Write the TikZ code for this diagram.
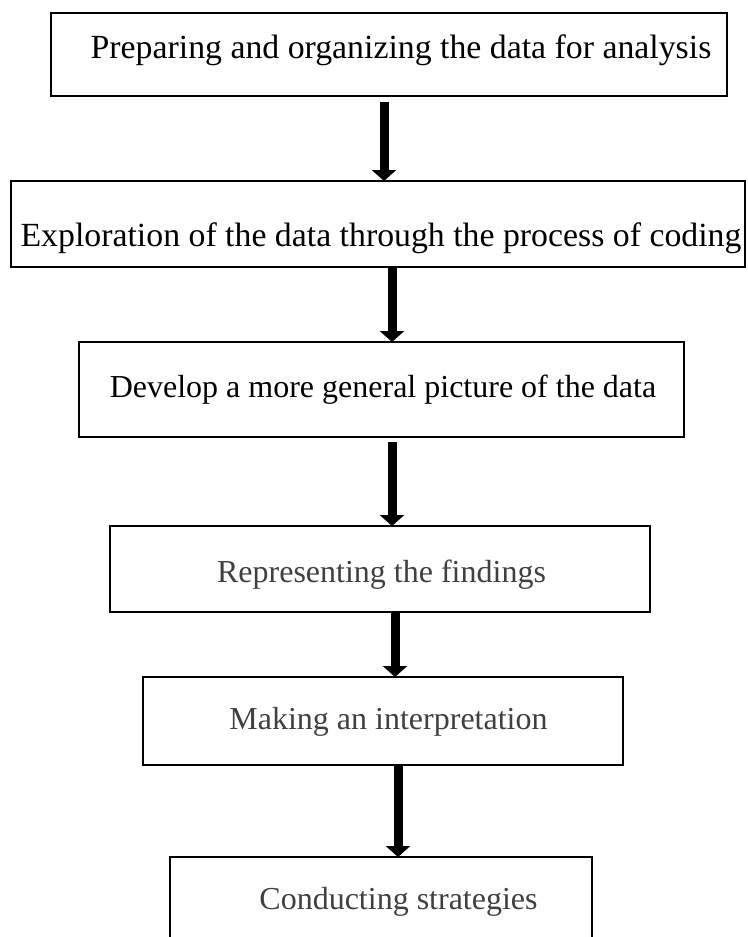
\documentclass[tikz,border=0pt]{standalone}
\usepackage{fontspec}
\setmainfont{Liberation Serif}
\usetikzlibrary{arrows.meta}
\definecolor{txtgray}{HTML}{404040}
\tikzset{
  boxstyle/.style={draw=black, line width=2.2pt, inner sep=0pt, outer sep=0pt, anchor=north west},
  lbl/.style={anchor=base, inner sep=0pt, font=\fontsize{32}{38}\selectfont},
  lblbig/.style={lbl, font=\fontsize{33.8}{40}\selectfont},
  arr/.style={line width=9pt, -{Triangle[width=24pt,length=11pt]}}
}
\begin{document}
\begin{tikzpicture}[x=1pt,y=-1pt]
\useasboundingbox (0,0) rectangle (747,937);
\clip (0,0) rectangle (747,937);
% boxes
\node[boxstyle, minimum width=676pt, minimum height=83pt] (b1) at (51,13) {};
\node[boxstyle, minimum width=734pt, minimum height=86pt] (b2) at (11,181) {};
\node[boxstyle, minimum width=605pt, minimum height=95pt] (b3) at (79,342) {};
\node[boxstyle, minimum width=540pt, minimum height=86pt] (b4) at (110,526) {};
\node[boxstyle, minimum width=480pt, minimum height=88pt] (b5) at (143,677) {};
\node[boxstyle, minimum width=422pt, minimum height=120pt] (b6) at (170,857) {};
% texts
\node[lblbig] (t1) at (401,58) {Preparing and organizing the data for analysis};
\node[lblbig] (t2) at (381,246) {Exploration of the data through the process of coding};
\node[lbl] (t3) at (383,397) {Develop a more general picture of the data};
\node[lbl, text=txtgray] (t4) at (381.5,582) {Representing the findings};
\node[lbl, text=txtgray] (t5) at (388.5,729) {Making an interpretation};
\node[lbl, text=txtgray] (t6) at (398.5,909) {Conducting strategies};
% arrows
\draw[arr, shorten <=6pt] (b1.south -| 384,0) -- (b2.north -| 384,0);
\draw[arr] (b2.south -| 392,0) -- (b3.north -| 392,0);
\draw[arr, shorten <=5pt] (b3.south -| 392,0) -- (b4.north -| 392,0);
\draw[arr] (b4.south -| 395,0) -- (b5.north -| 395,0);
\draw[arr] (b5.south -| 398,0) -- (b6.north -| 398,0);
\end{tikzpicture}
\end{document}
